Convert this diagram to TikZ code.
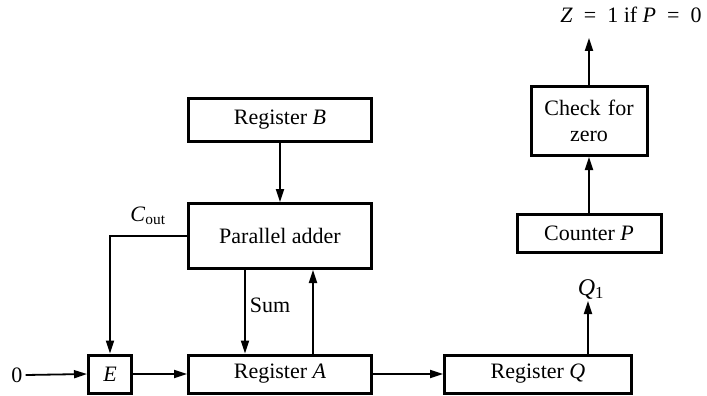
\documentclass[tikz,border=0pt]{standalone}
\usepackage{fontspec}
\setmainfont{Liberation Serif}
\usetikzlibrary{arrows.meta}
\tikzset{
  blk/.style={draw, line width=3pt, inner sep=0pt, align=center, font=\fontsize{22}{25}\selectfont},
  lbl/.style={inner sep=0pt, font=\fontsize{22}{25}\selectfont},
  conn/.style={line width=1.8pt, -{Triangle[length=13pt,width=8pt]}}
}
\begin{document}
\begin{tikzpicture}[x=1pt,y=-1pt]
\useasboundingbox (0,0) rectangle (707,396);
\node[blk, minimum width=183pt, minimum height=43pt] (B) at (280,120) {Register \textit{B}};
\node[blk, minimum width=183pt, minimum height=65pt] (add) at (280,236) {Parallel adder};
\node[blk, minimum width=183pt, minimum height=38pt] (A) at (280,374) {Register \textit{A}};
\node[blk, minimum width=43pt, minimum height=38pt] (E) at (110,374) {\textit{E}};
\node[blk, minimum width=187pt, minimum height=38pt] (Q) at (538,374) {Register \textit{Q}};
\node[blk, minimum width=144pt, minimum height=38pt] (P) at (589,233.5) {Counter \textit{P}};
\node[blk, minimum width=116pt, minimum height=69pt, text width=110pt, font=\fontsize{22}{26}\selectfont] (chk) at (589,121) {Check for\\zero};
\node[lbl] (zero) at (17,375) {0};
\node[lbl] (cout) at (148,216) {\textit{C}\textsubscript{out}};
\node[lbl] (sum) at (270,305) {Sum};
\node[lbl, font=\fontsize{24}{26}\selectfont] (q1) at (591,289) {\textit{Q}\textsubscript{1}};
\node[lbl] (z) at (631,15) {\textit{Z}\hspace{11pt}=\hspace{11pt}1 if \textit{P}\hspace{11pt}=\hspace{11pt}0};
\coordinate (zt) at (589,38);
\coordinate (q1t) at (588,301);
\draw[conn] (B.south) -- (add.north);
\draw[conn] (add.west) -| (E.north);
\draw[conn] ([xshift=-35pt]add.south) -- ([xshift=-35pt]A.north);
\draw[conn] ([xshift=33pt]A.north) -- ([xshift=33pt]add.south);
\draw[conn] (zero.east) ++(3pt,0) -- (E.west);
\draw[conn] (E.east) -- (A.west);
\draw[conn] (A.east) -- (Q.west);
\draw[conn] (Q.north -| q1t) -- (q1t);
\draw[conn] (P.north) -- (chk.south);
\draw[conn] (chk.north -| zt) -- (zt);
\end{tikzpicture}
\end{document}
